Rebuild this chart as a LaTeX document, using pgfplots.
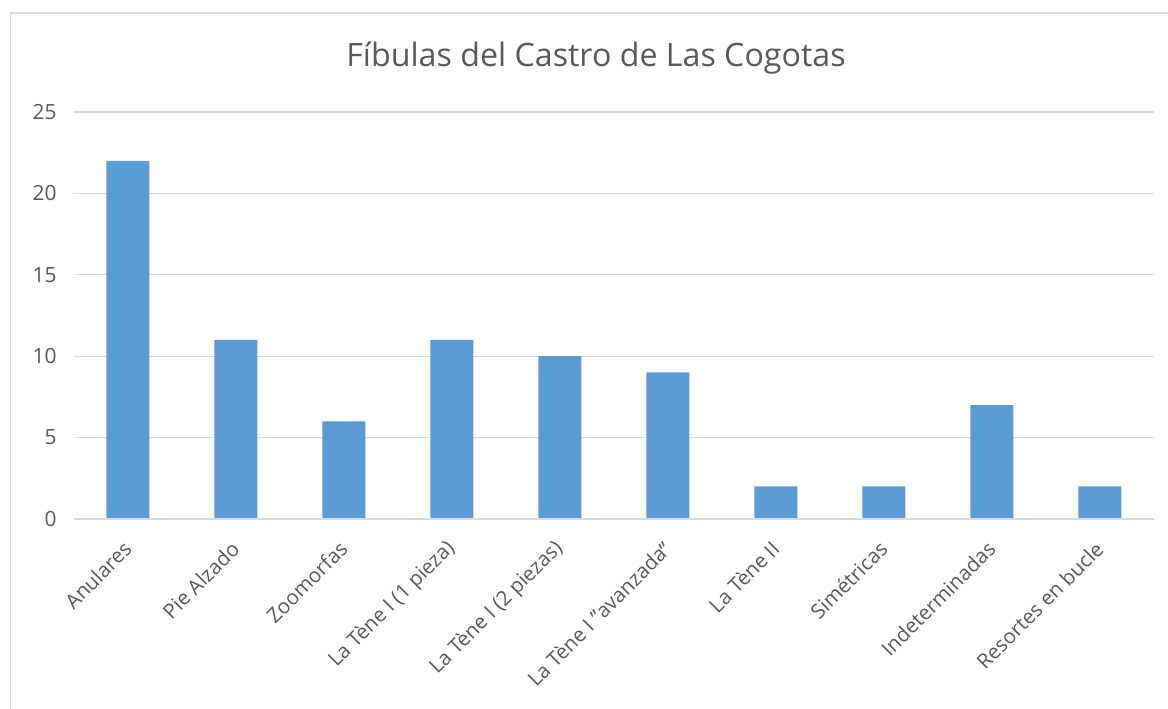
\documentclass[border=0pt]{standalone}
\usepackage{pgfplots}
\pgfplotsset{compat=1.18}
\usepackage{fontspec}
\setmainfont{Open Sans}
\definecolor{barblue}{HTML}{5B9BD5}
\definecolor{gridgray}{HTML}{D9D9D9}
\definecolor{txtgray}{HTML}{595959}
\definecolor{framegray}{HTML}{D9D9D9}
\begin{document}
\begin{tikzpicture}[x=1bp,y=1bp]
\useasboundingbox (0,0) rectangle (1168,709);
\draw[framegray, line width=1.5bp] (10.5,-10) -- (10.5,696) -- (1190,696);
\node[txtgray, font=\fontsize{32.3}{38}\selectfont] at (596,651) {Fíbulas del Castro de Las Cogotas};
\begin{axis}[
  at={(74bp,190bp)}, anchor=south west,
  scale only axis, width=1080bp, height=407bp,
  xmin=-0.5, xmax=9.5, ymin=0, ymax=25,
  ytick={0,5,...,25},
  xtick={0,...,9},
  xticklabels={Anulares,Pie Alzado,Zoomorfas,La Tène I (1 pieza),La Tène I (2 piezas),La Tène I \symbol{34}avanzada\symbol{34},La Tène II,Simétricas,Indeterminadas,Resortes en bucle},
  xticklabel style={xshift=2bp, yshift=-24bp, rotate=45, anchor=east, font=\fontsize{20.5}{24}\selectfont, text=txtgray},
  yticklabel style={font=\fontsize{21}{25}\selectfont, text=txtgray, xshift=-14bp},
  /pgf/number format/assume math mode=true,
  ymajorgrids, grid style={gridgray, line width=1.3bp},
  major tick length=0pt,
  axis line style={draw=none},
  ybar, bar width=43bp,
  clip=false,
]
\addplot[fill=barblue, draw=none] coordinates {
(0,22) (1,11) (2,6) (3,11) (4,10) (5,9) (6,2) (7,2) (8,7) (9,2)};
\draw[gridgray, line width=1.3bp] (axis cs:-0.5,0) -- (axis cs:9.5,0);
\end{axis}
\end{tikzpicture}
\end{document}
